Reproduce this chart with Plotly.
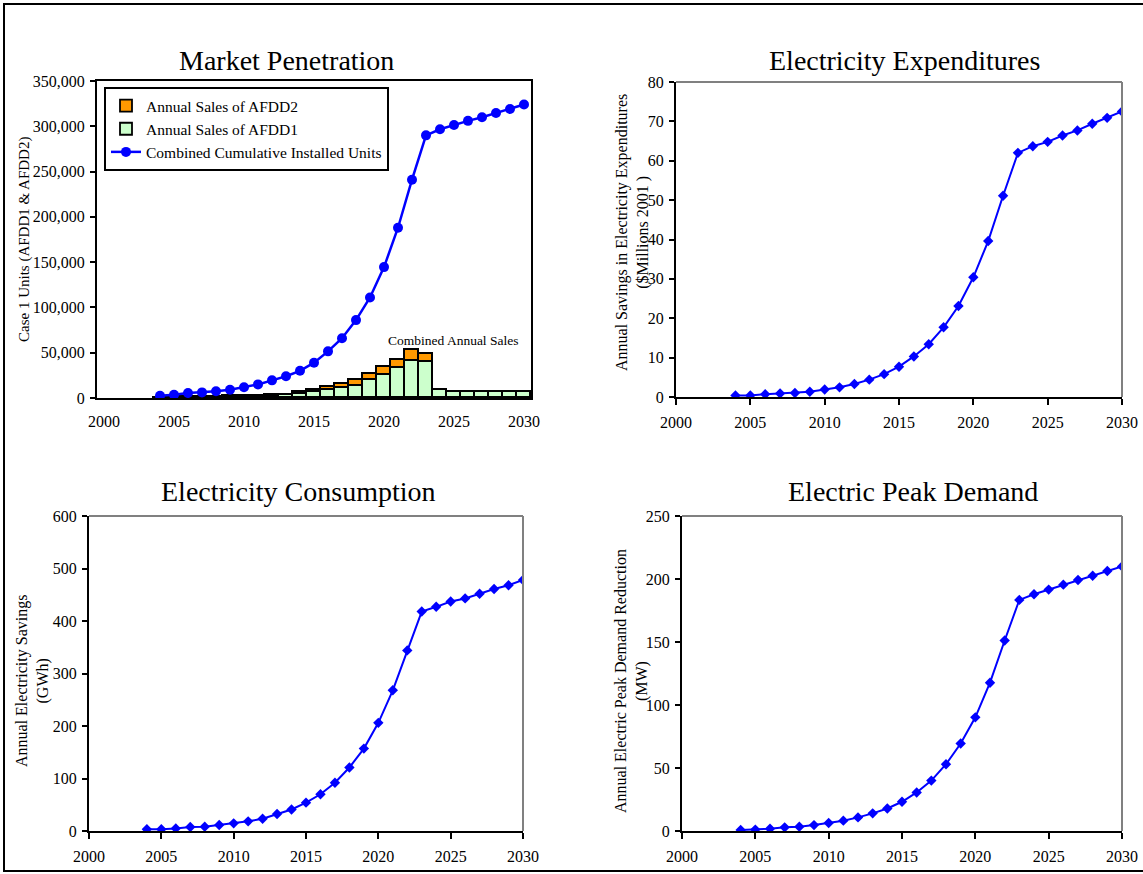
import plotly.graph_objects as go

W, H = 1143, 874
FONT = "Liberation Serif, Times New Roman, serif"

# ---------------- data ----------------
years_all = list(range(2000, 2031))
years = list(range(2004, 2031))

afdd1_sales = [0, 0, 0, 0, 500, 650, 800, 1000, 1200, 1450, 1700, 2000, 2500, 2800,
               4500, 6500, 9000, 11000, 13000, 20000, 25000, 33000, 41000, 39500,
               8500, 6600, 6600, 6600, 6600, 6600, 6600]
afdd2_sales = [0, 0, 0, 0, 0, 0, 0, 0, 300, 400, 500, 600, 700, 800,
               2000, 2500, 3000, 4800, 7000, 6800, 8800, 9000, 12000, 9000,
               0, 0, 0, 0, 0, 0, 0]
cumulative_units = [2500, 3500, 5500, 6200, 7400, 9200, 11800, 15000, 19500, 24000,
                    30000, 39000, 51500, 66000, 86000, 111000, 144500, 188000, 241000,
                    290000, 296700, 301500, 306000, 310000, 314700, 319000, 324000]

expenditure_savings = [0.4, 0.4, 0.7, 0.9, 1.0, 1.35, 1.9, 2.45, 3.3, 4.4, 5.8, 7.7,
                       10.3, 13.4, 17.7, 23.1, 30.4, 39.6, 51.1, 62.0, 63.7, 64.8,
                       66.4, 67.7, 69.4, 70.9, 72.5]
consumption_savings = [3.2, 3.2, 5, 7.6, 8.2, 11.4, 14.6, 18.4, 23.4, 32.3, 41, 54, 70,
                       92, 121, 157, 206, 268, 344, 418, 427, 437, 443, 452, 461, 468, 478]
peak_reduction = [0.8, 1.1, 1.8, 2.9, 3.4, 4.7, 6.3, 8.2, 10.8, 14.0, 17.9, 23.2, 30.6,
                  40.0, 53.0, 69.4, 90.2, 117.7, 151.2, 183.4, 187.9, 191.6, 195.5,
                  199.2, 202.6, 206.3, 210.0]

label_years = [2000, 2005, 2010, 2015, 2020, 2025, 2030]


def px_x(p):
    return p / W


def px_y(p):
    return 1 - p / H


def nz(vals):
    return [v if v else None for v in vals]


fig = go.Figure()

# ---- Market penetration ----
fig.add_trace(go.Bar(x=years_all, y=nz(afdd1_sales), name="Annual Sales of AFDD1",
                     marker=dict(color="#CCFFCC", line=dict(color="black", width=1.8)),
                     xaxis="x", yaxis="y", legendrank=2, width=1))
fig.add_trace(go.Bar(x=years_all, y=nz(afdd2_sales), name="Annual Sales of AFDD2",
                     marker=dict(color="#FF9900", line=dict(color="black", width=1.8)),
                     xaxis="x", yaxis="y", legendrank=1, width=1))
fig.add_trace(go.Scatter(x=years, y=cumulative_units, mode="lines+markers",
                         name="Combined Cumulative Installed Units",
                         line=dict(color="#0000FF", width=2.5),
                         marker=dict(symbol="circle", size=10, color="#0000FF"),
                         xaxis="x", yaxis="y", legendrank=3))

# ---- other panels ----
for vals, ax in [(expenditure_savings, "2"), (consumption_savings, "3"), (peak_reduction, "4")]:
    fig.add_trace(go.Scatter(x=years, y=vals, mode="lines+markers", showlegend=False,
                             line=dict(color="#0000FF", width=2),
                             marker=dict(symbol="diamond", size=8, color="#0000FF"),
                             xaxis="x" + ax, yaxis="y" + ax))

tickfont = dict(family=FONT, size=16, color="black")

boxes = {
    "1": (97, 531, 81, 398),
    "2": (676, 1122, 82, 397),
    "3": (89, 523, 516, 831),
    "4": (682, 1122, 516, 831),
}


def dom(b):
    x0, x1, y0, y1 = b
    return [px_x(x0), px_x(x1)], [px_y(y1), px_y(y0)]


lay = {}
# panel 1 axes
xd, yd = dom(boxes["1"])
lay["xaxis"] = dict(domain=xd, anchor="y", range=[1999.5, 2030.5],
                    tickmode="array", tickvals=label_years,
                    ticktext=[str(v) for v in label_years], ticks="",
                    ticklabelstandoff=8,
                    showline=True, linecolor="black", linewidth=2, mirror=True,
                    showgrid=False, zeroline=False, tickfont=tickfont, automargin=False)
lay["xaxis5"] = dict(overlaying="x", anchor="y", range=[1999.5, 2030.5],
                     tickmode="array", tickvals=[v - 0.5 for v in years_all] + [years_all[-1] + 0.5],
                     showticklabels=False, ticks="outside", ticklen=6, tickwidth=2,
                     tickcolor="black", showline=False, showgrid=False, zeroline=False,
                     automargin=False)
lay["yaxis"] = dict(domain=yd, anchor="x", range=[0, 350000], dtick=50000, tickformat=",",
                    ticks="outside", ticklen=5, tickwidth=2, tickcolor="black",
                    ticklabelstandoff=2,
                    showline=True, linecolor="black", linewidth=2, mirror=True,
                    showgrid=False, zeroline=False, tickfont=tickfont, automargin=False)

yranges = {"2": (80, 10), "3": (600, 100), "4": (250, 50)}
for ax in ["2", "3", "4"]:
    xd, yd = dom(boxes[ax])
    lay["xaxis" + ax] = dict(domain=xd, anchor="y" + ax, range=[2000, 2030], dtick=5,
                             ticks="outside", ticklen=6, tickwidth=2, tickcolor="black",
                             ticklabelstandoff=4,
                             showline=True, linecolor="black", linewidth=2,
                             showgrid=False, zeroline=False, tickfont=tickfont,
                             automargin=False)
    lay["yaxis" + ax] = dict(domain=yd, anchor="x" + ax, range=[0, yranges[ax][0]],
                             dtick=yranges[ax][1],
                             ticks="outside", ticklen=5, tickwidth=2, tickcolor="black",
                             ticklabelstandoff=2,
                             showline=True, linecolor="black", linewidth=2,
                             showgrid=False, zeroline=False, tickfont=tickfont,
                             automargin=False)

shapes = []
# gray top/right borders of panels 2-4
for ax in ["2", "3", "4"]:
    shapes.append(dict(type="line", xref="x%s domain" % ax, yref="y%s domain" % ax,
                       x0=0, x1=1, y0=1, y1=1, line=dict(color="#808080", width=2)))
    shapes.append(dict(type="line", xref="x%s domain" % ax, yref="y%s domain" % ax,
                       x0=1, x1=1, y0=0, y1=1, line=dict(color="#808080", width=2)))
# outer frame
shapes.append(dict(type="rect", xref="paper", yref="paper", x0=px_x(4), x1=1.01,
                   y0=px_y(871), y1=px_y(4), line=dict(color="black", width=2),
                   fillcolor="rgba(0,0,0,0)", layer="below"))

ann = []
titles = [("Market Penetration", 287, 60), ("Electricity Expenditures", 904, 60),
          ("Electricity Consumption", 299, 492), ("Electric Peak Demand", 913, 492)]
for t, x, y in titles:
    ann.append(dict(text=t, x=px_x(x), y=px_y(y), xref="paper", yref="paper",
                    showarrow=False, xanchor="center", yanchor="middle",
                    font=dict(family=FONT, size=28, color="black")))

ytitles = [("Case 1 Units (AFDD1 & AFDD2)", 24, 240, 15),
           ("Annual Savings in Electricity Expenditures<br>($Millions 2001 )", 633, 233, 16),
           ("Annual Electricity Savings<br>(GWh)", 32, 681, 16),
           ("Annual Electric Peak Demand Reduction<br>(MW)", 631, 681, 16)]
for t, x, y, s in ytitles:
    ann.append(dict(text=t, x=px_x(x), y=px_y(y), xref="paper", yref="paper",
                    showarrow=False, textangle=-90, xanchor="center", yanchor="middle",
                    font=dict(family=FONT, size=s, color="black")))

ann.append(dict(text="Combined Annual Sales", x=px_x(453), y=px_y(340), xref="paper",
                yref="paper", showarrow=False, xanchor="center", yanchor="middle",
                font=dict(family=FONT, size=13.5, color="black")))

fig.update_layout(
    width=W, height=H, margin=dict(l=0, r=0, t=0, b=0),
    paper_bgcolor="white", plot_bgcolor="white",
    barmode="stack", bargap=0,
    showlegend=True,
    legend=dict(x=px_x(104), y=px_y(87), xanchor="left", yanchor="top",
                bordercolor="black", borderwidth=2, bgcolor="white",
                traceorder="normal",
                font=dict(family=FONT, size=15.5, color="black"),
                tracegroupgap=0, itemwidth=30),
    shapes=shapes, annotations=ann,
    **lay,
)

fig.write_html("out.html", config={"displayModeBar": False},
               post_script="document.body.style.margin='0';")
